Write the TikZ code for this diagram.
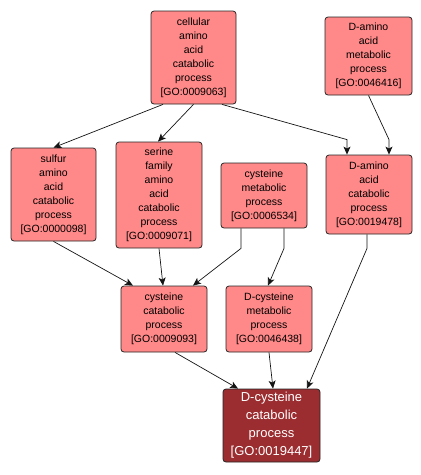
\documentclass[tikz,border=0pt]{standalone}
\usepackage{fontspec}
\setmainfont{Liberation Sans}
\usetikzlibrary{arrows.meta}
\definecolor{nodefill}{RGB}{255,136,136}
\definecolor{darkfill}{RGB}{155,45,48}
\definecolor{edgecol}{RGB}{20,20,20}
\begin{document}
\begin{tikzpicture}[x=1pt,y=-1pt,
  gonode/.style={draw=black!85, line width=0.8pt, fill=nodefill, rounded corners=3pt,
    align=center, inner sep=0pt, font=\fontsize{10.5}{14}\selectfont},
  gofocus/.style={gonode, fill=darkfill, text=white, font=\fontsize{13}{18}\selectfont},
  edge/.style={draw=edgecol, line width=0.7pt, -{Stealth[length=8pt,width=7pt,inset=2pt]}}]
\useasboundingbox (0,0) rectangle (421,475);
\node[gonode, minimum width=85pt, minimum height=93pt] (A) at (193.5,57.5)
  {cellular\\amino\\acid\\catabolic\\process\\{[GO:0009063]}};
\node[gonode, minimum width=87pt, minimum height=78pt] (B) at (368.5,56)
  {D-amino\\acid\\metabolic\\process\\{[GO:0046416]}};
\node[gonode, minimum width=85pt, minimum height=93pt] (C) at (53.5,194.5)
  {sulfur\\amino\\acid\\catabolic\\process\\{[GO:0000098]}};
\node[gonode, minimum width=86pt, minimum height=106pt] (D) at (159,195)
  {serine\\family\\amino\\acid\\catabolic\\process\\{[GO:0009071]}};
\node[gonode, minimum width=86pt, minimum height=65pt] (E) at (264,195.5)
  {cysteine\\metabolic\\process\\{[GO:0006534]}};
\node[gonode, minimum width=86pt, minimum height=79pt] (F) at (369,194.5)
  {D-amino\\acid\\catabolic\\process\\{[GO:0019478]}};
\node[gonode, minimum width=86pt, minimum height=66pt] (G) at (164,319)
  {cysteine\\catabolic\\process\\{[GO:0009093]}};
\node[gonode, minimum width=86pt, minimum height=66pt] (H) at (269,319)
  {D-cysteine\\metabolic\\process\\{[GO:0046438]}};
\node[gofocus, minimum width=97pt, minimum height=73pt] (I) at (271.5,425.5)
  {D-cysteine\\catabolic\\process\\{[GO:0019447]}};
% edges
\draw[edge] ([xshift=-30.5pt]A.south) -- (C.north);
\draw[edge] (A.south) -- ([xshift=-1pt]D.north);
\draw[edge] ([xshift=28.5pt]A.south) -- ([xshift=-22pt,yshift=15pt]F.north) -- ([xshift=-22pt]F.north);
\draw[edge] (B.south) -- ([xshift=20pt,yshift=15pt]F.north) -- ([xshift=20pt]F.north);
\draw[edge] (C.south) -- ([xshift=-31pt]G.north);
\draw[edge] (D.south) -- ([xshift=-1pt]G.north);
\draw[edge] ([xshift=-23pt]E.south) -- ([xshift=-23pt,yshift=-20pt]E.south) -- ([xshift=29pt]G.north);
\draw[edge] ([xshift=20pt]E.south) -- ([xshift=20pt,yshift=-20pt]E.south) -- ([xshift=-1pt]H.north);
\draw[edge] ([xshift=-2pt]F.south) -- ([xshift=-2pt,yshift=-14pt]F.south) -- ([xshift=35.5pt]I.north);
\draw[edge] ([xshift=11pt]G.south) -- ([xshift=-33.5pt]I.north);
\draw[edge] (H.south) -- ([xshift=1.5pt]I.north);
\end{tikzpicture}
\end{document}
